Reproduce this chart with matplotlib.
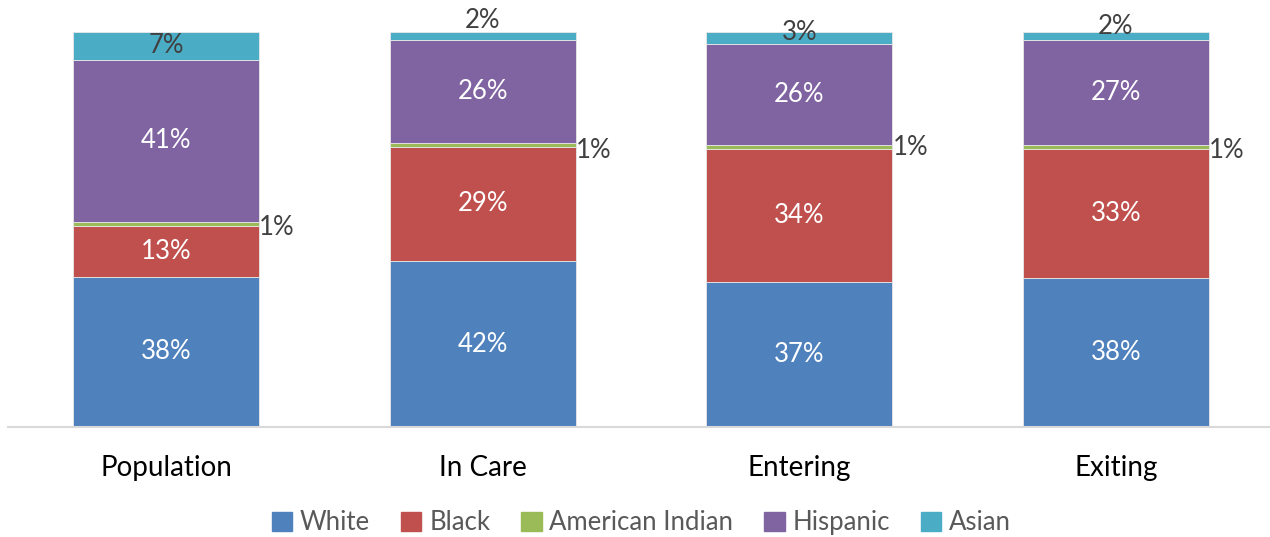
import numpy as np
import matplotlib.pyplot as plt
from matplotlib.patches import Patch

# values as shown on the chart (percent)
groups = ['Population', 'In Care', 'Entering', 'Exiting']
series = ['White', 'Black', 'American Indian', 'Hispanic', 'Asian']
white = [38, 42, 37, 38]
black = [13, 29, 34, 33]
american_indian = [1, 1, 1, 1]
hispanic = [41, 26, 26, 27]
asian = [7, 2, 3, 2]

colors = ['#4F81BD', '#C0504D', '#9BBB59', '#8064A2', '#4BACC6']
plt.rcParams['font.family'] = ['Lato', 'DejaVu Sans']

data = np.array([white, black, american_indian, hispanic, asian], dtype=float)
shares = data / data.sum(axis=0)  # 100% stacked

fig = plt.figure(figsize=(12.7, 5.37), dpi=100)
ax = fig.add_axes([0.0063, 0.2048, 0.997, 0.7356])

x = np.arange(len(groups))
bottom = np.zeros(len(groups))
bars = []
for i, name in enumerate(series):
    b = ax.bar(x, shares[i], 0.588, bottom=bottom, color=colors[i],
               edgecolor='#e8e8e8', linewidth=0.6, label=name)
    bars.append(b)
    bottom += shares[i]

# labels inside the big segments
for i in [0, 1, 3]:
    for j, rect in enumerate(bars[i]):
        ax.text(rect.get_x() + rect.get_width() / 2,
                rect.get_y() + rect.get_height() / 2,
                f'{int(data[i, j])}%', ha='center', va='center',
                color='white', fontsize=18.5)

# american indian labels to the right of the bar
for j, rect in enumerate(bars[2]):
    ax.annotate(f'{int(data[2, j])}%',
                (rect.get_x() + rect.get_width(), rect.get_y() + rect.get_height() / 2),
                xytext=(0, [-3, -4, 0, -2][j]), textcoords='offset points',
                ha='left', va='center', color='#404040', fontsize=18.5)

# asian labels near the top
asian_off = [0, 11, 4, 7]
for j, rect in enumerate(bars[4]):
    ax.annotate(f'{int(data[4, j])}%',
                (rect.get_x() + rect.get_width() / 2, rect.get_y() + rect.get_height() / 2),
                xytext=(0, asian_off[j]), textcoords='offset points',
                ha='center', va='center', color='#404040', fontsize=18.5)

ax.set_xlim(-0.5, 3.5)
ax.set_ylim(0, 1)
ax.set_yticks([])
ax.set_xticks(x)
ax.set_xticklabels(groups, fontsize=20, color='black')
ax.tick_params(axis='x', length=0, pad=20)
for s in ['top', 'right', 'left']:
    ax.spines[s].set_visible(False)
ax.spines['bottom'].set_color('#d9d9d9')
ax.spines['bottom'].set_linewidth(1.5)

handles = [Patch(color=c) for c in colors]
leg = fig.legend(handles, series, loc='lower center', ncol=5, frameon=False,
                 bbox_to_anchor=(0.505, -0.04), fontsize=18.5, handlelength=0.8,
                 handleheight=0.8, handletextpad=0.3, columnspacing=1.2)
for t in leg.get_texts():
    t.set_color('#595959')

fig.savefig('out.png', dpi=100)
